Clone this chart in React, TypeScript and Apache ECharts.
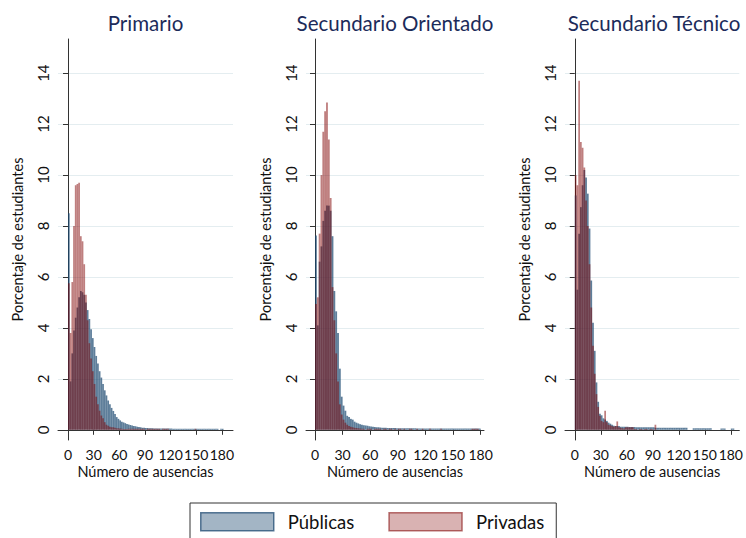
import React, { useEffect, useRef } from "react";
import * as echarts from "echarts";

// Each bar covers two days of absence: bar k spans [2k, 2k + 2).
const BIN_WIDTH = 2;

const PANEL_TITLES = ["Primario", "Secundario Orientado", "Secundario Técnico"];
const SERIES_NAMES = ["Públicas", "Privadas"];
const X_TICKS = [0, 30, 60, 90, 120, 150, 180];
const Y_TICKS = [0, 2, 4, 6, 8, 10, 12, 14];

// Percentage of students per absence bin.
const primarioPublicas = [
  8.5, 1.9, 3.0, 3.9, 4.4, 4.8, 5.2, 5.45, 5.4, 5.3,
  5.0, 4.7, 4.35, 3.95, 3.6, 3.25, 2.9, 2.6, 2.3, 2.05,
  1.8, 1.55, 1.35, 1.15, 1.0, 0.86, 0.74, 0.62, 0.5, 0.43,
  0.37, 0.32, 0.29, 0.26, 0.23, 0.21, 0.19, 0.17, 0.15, 0.14,
  0.12, 0.11, 0.1, 0.08, 0.08, 0.07, 0.07, 0.06, 0.06, 0.06,
  0.05, 0.05, 0.05, 0.05, 0.05, 0.05, 0.05, 0.05, 0.05, 0.05,
  0.05, 0.04, 0.04, 0.04, 0.04, 0.04, 0.04, 0.04, 0.04, 0.04,
  0.04, 0.04, 0.04, 0.04, 0.04, 0.04, 0.04, 0.04, 0.04, 0.04,
  0.04, 0.04, 0.04, 0.04, 0.04, 0.04, 0.04, 0.04, 0, 0.04, 0.04,
];
const primarioPrivadas = [
  5.75, 3.8, 5.8, 8.0, 9.6, 9.65, 9.7, 7.6, 7.4, 6.5,
  5.3, 4.3, 3.4, 2.8, 2.3, 1.8, 1.3, 1.0, 0.75, 0.56,
  0.45, 0.3, 0.2, 0.16, 0.12, 0.1, 0.1, 0.08, 0.06, 0.06,
  0.05, 0.04, 0.03, 0.03, 0.03, 0.04, 0.04, 0.04, 0.04, 0.04,
  0.04, 0.04, 0.04, 0.04, 0.04, 0, 0.04, 0.04, 0.04, 0.04,
  0.04, 0.04, 0.04, 0.04, 0, 0.04, 0.04, 0.04, 0.04, 0,
  0, 0, 0, 0, 0, 0, 0, 0, 0, 0,
  0, 0, 0, 0, 0.04,
];
const orientadoPublicas = [
  7.63, 4.1, 6.6, 7.2, 8.2, 8.6, 8.8, 8.8, 8.6, 7.6,
  5.45, 4.65, 3.8, 2.4, 1.3, 0.95, 0.75, 0.55, 0.5, 0.43,
  0.4, 0.32, 0.28, 0.25, 0.22, 0.2, 0.18, 0.17, 0.16, 0.14,
  0.13, 0.12, 0.11, 0.1, 0.1, 0.09, 0.08, 0.08, 0.08, 0.07,
  0.07, 0.07, 0.07, 0.07, 0.06, 0.06, 0.06, 0.06, 0.06, 0.06,
  0.06, 0.06, 0.06, 0.06, 0.06, 0.05, 0.05, 0.05, 0.05, 0.05,
  0.05, 0.05, 0.05, 0.05, 0.05, 0.05, 0.05, 0.05, 0.05, 0.05,
  0.05, 0.05, 0.05, 0.05, 0.05, 0.05, 0.05, 0.05, 0.05, 0.05,
  0.05, 0.05, 0.05, 0.05, 0.05, 0.05, 0.05, 0.05, 0.05, 0.05,
];
const orientadoPrivadas = [
  4.94, 5.2, 7.7, 10.0, 11.7, 12.5, 12.85, 11.4, 9.1, 5.6,
  4.3, 3.0, 1.9, 1.0, 0.6, 0.4, 0.28, 0.2, 0.15, 0.12,
  0.1, 0.08, 0.07, 0.06, 0.05, 0.04, 0.04, 0, 0.04, 0.04,
  0.04, 0, 0.04, 0.04, 0.04, 0.04, 0, 0.04, 0.04, 0,
  0.04, 0.04, 0, 0.04, 0, 0.04, 0.04, 0, 0.04, 0,
  0, 0.04, 0.04, 0, 0, 0.04, 0, 0, 0.04, 0,
  0, 0, 0.04, 0, 0, 0, 0, 0, 0.04, 0,
  0, 0, 0, 0, 0, 0, 0, 0, 0, 0,
  0, 0, 0, 0, 0, 0.04, 0.04, 0.04, 0.04,
];
const tecnicoPublicas = [
  9.2, 5.5, 7.7, 8.74, 9.6, 10.2, 9.9, 9.27, 7.9, 5.86,
  4.2, 3.1, 1.86, 1.1, 0.63, 0.57, 0.45, 0.4, 0.35, 0.28,
  0.24, 0.2, 0.16, 0.15, 0.15, 0.15, 0.12, 0.12, 0.12, 0.12,
  0.12, 0.11, 0.11, 0.11, 0.11, 0.1, 0.1, 0.1, 0.1, 0.1,
  0.1, 0.1, 0.1, 0.1, 0.1, 0.1, 0.08, 0.08, 0.08, 0.08,
  0.08, 0.08, 0.08, 0.08, 0.08, 0.08, 0.08, 0.08, 0.08, 0.08,
  0.08, 0.08, 0.08, 0.08, 0.08, 0, 0, 0, 0.06, 0.06,
  0.06, 0.06, 0.06, 0.06, 0.06, 0.06, 0.06, 0.06, 0.06, 0,
  0, 0, 0, 0, 0.05, 0.05, 0.05, 0, 0, 0, 0.05, 0.05,
];
const tecnicoPrivadas = [
  10.0, 9.6, 13.7, 11.3, 11.07, 10.3, 9.0, 8.0, 6.5, 4.8,
  3.3, 2.2, 1.4, 0.9, 0.55, 0.35, 0.3, 0.75, 0.3, 0.2,
  0.18, 0.15, 0.12, 0.15, 0.33, 0.1, 0.08, 0.06, 0.05, 0.1,
  0.1, 0.1, 0.1, 0.1, 0.03, 0.03, 0, 0.03, 0.03, 0,
  0.03, 0.03, 0, 0.03, 0.03, 0, 0.2,
];

const PANEL_DATA = [
  [primarioPublicas, primarioPrivadas],
  [orientadoPublicas, orientadoPrivadas],
  [tecnicoPublicas, tecnicoPrivadas],
];

// Layout of the three plot regions.
const PANELS = [
  { left: 58, width: 175, xMin: -11.7, xMax: 193 },
  { left: 306, width: 178, xMin: -9.8, xMax: 183.7 },
  { left: 565, width: 178, xMin: -11.3, xMax: 189.8 },
];
const GRID_TOP = 39;
const GRID_HEIGHT = 401;
const Y_MIN = -0.4;
const Y_MAX = 15.34;

const FONT = "Lato, 'Open Sans', sans-serif";
const BAR_COLORS = ["rgba(26, 71, 111, 0.7)", "rgba(128, 0, 0, 0.5)"];
const LEGEND_FILL = ["rgba(26, 71, 111, 0.4)", "rgba(128, 0, 0, 0.3)"];
const LEGEND_BORDER = ["rgba(26, 71, 111, 0.72)", "rgba(128, 0, 0, 0.55)"];
const AXIS_COLOR = "#333";
const GRID_LINE_COLOR = "#e4edf0";

function binsOf(values: number[]) {
  const out: number[][] = [];
  values.forEach((v, k) => {
    if (v > 0) out.push([k * BIN_WIDTH, (k + 1) * BIN_WIDTH, v]);
  });
  return out;
}

function buildOption() {
  const grid = PANELS.map((p) => ({
    left: p.left,
    top: GRID_TOP,
    width: p.width,
    height: GRID_HEIGHT,
  }));

  const xAxis = PANELS.map((p, i) => ({
    type: "value",
    gridIndex: i,
    min: p.xMin,
    max: p.xMax,
    name: "Número de ausencias",
    nameLocation: "middle",
    nameGap: 24,
    nameMoveOverlap: false,
    nameTextStyle: { fontFamily: FONT, fontSize: 14.5, color: "#111" },
    axisLine: { show: true, lineStyle: { color: AXIS_COLOR, width: 1 } },
    axisTick: {
      show: true,
      length: 5,
      customValues: X_TICKS,
      lineStyle: { color: AXIS_COLOR },
    },
    axisLabel: {
      customValues: X_TICKS,
      hideOverlap: false,
      margin: 7,
      fontFamily: FONT,
      fontSize: 14,
      color: "#111",
    },
    splitLine: { show: false },
  }));

  const yAxis = PANELS.map((_, i) => ({
    type: "value",
    gridIndex: i,
    min: Y_MIN,
    max: Y_MAX,
    name: "Porcentaje de estudiantes",
    nameLocation: "middle",
    nameGap: 33,
    nameTextStyle: { fontFamily: FONT, fontSize: 14.5, color: "#111" },
    axisLine: { show: true, lineStyle: { color: AXIS_COLOR, width: 1 } },
    axisTick: {
      show: true,
      length: 5,
      customValues: Y_TICKS,
      lineStyle: { color: AXIS_COLOR },
    },
    axisLabel: {
      customValues: Y_TICKS,
      rotate: 90,
      margin: 8,
      fontFamily: FONT,
      fontSize: 15,
      color: "#111",
    },
    splitLine: { show: true, lineStyle: { color: GRID_LINE_COLOR, width: 1 } },
  }));

  const series: any[] = [];
  PANEL_DATA.forEach((pair, i) => {
    pair.forEach((values, s) => {
      const color = BAR_COLORS[s];
      series.push({
        type: "custom",
        name: SERIES_NAMES[s],
        xAxisIndex: i,
        yAxisIndex: i,
        data: binsOf(values),
        encode: { x: [0, 1], y: 2 },
        itemStyle: { color },
        z: 2 + s,
        renderItem: (_params: any, api: any) => {
          const top = api.coord([api.value(0), api.value(2)]);
          const bottom = api.coord([api.value(1), 0]);
          return {
            type: "rect",
            shape: {
              x: top[0],
              y: top[1],
              width: bottom[0] - top[0],
              height: bottom[1] - top[1],
            },
            style: { fill: color },
          };
        },
      });
    });
  });

  const titleCenters = PANELS.map((p) => p.left + p.width / 2);
  const graphic = PANEL_TITLES.map((t, i) => ({
    type: "text",
    x: titleCenters[i],
    y: 23,
    silent: true,
    style: {
      text: t,
      align: "center",
      verticalAlign: "middle",
      fontFamily: FONT,
      fontSize: 20.5,
      fill: "#1c2b5a",
    },
  }));

  return {
    animation: false,
    backgroundColor: "#ffffff",
    grid,
    xAxis,
    yAxis,
    series,
    graphic,
    legend: {
      left: 190,
      top: 503,
      orient: "horizontal",
      icon: "rect",
      itemWidth: 73,
      itemHeight: 18,
      itemGap: 34,
      padding: [9, 12, 9, 10],
      borderColor: "#333",
      borderWidth: 1,
      selectedMode: false,
      textStyle: {
        fontFamily: FONT,
        fontSize: 18.5,
        color: "#111",
        padding: [0, 0, 0, 9],
      },
      data: SERIES_NAMES.map((name, s) => ({
        name,
        itemStyle: {
          color: LEGEND_FILL[s],
          borderColor: LEGEND_BORDER[s],
          borderWidth: 1.5,
        },
      })),
    },
  };
}

export default function App() {
  const ref = useRef<HTMLDivElement>(null);

  useEffect(() => {
    if (!ref.current) return;
    const chart = echarts.init(ref.current, undefined, { renderer: "svg" });
    chart.setOption(buildOption() as any);
    return () => chart.dispose();
  }, []);

  return (
    <div
      ref={ref}
      style={{
        position: "fixed",
        left: 0,
        top: 0,
        width: 746,
        height: 538,
        background: "#ffffff",
      }}
    />
  );
}
